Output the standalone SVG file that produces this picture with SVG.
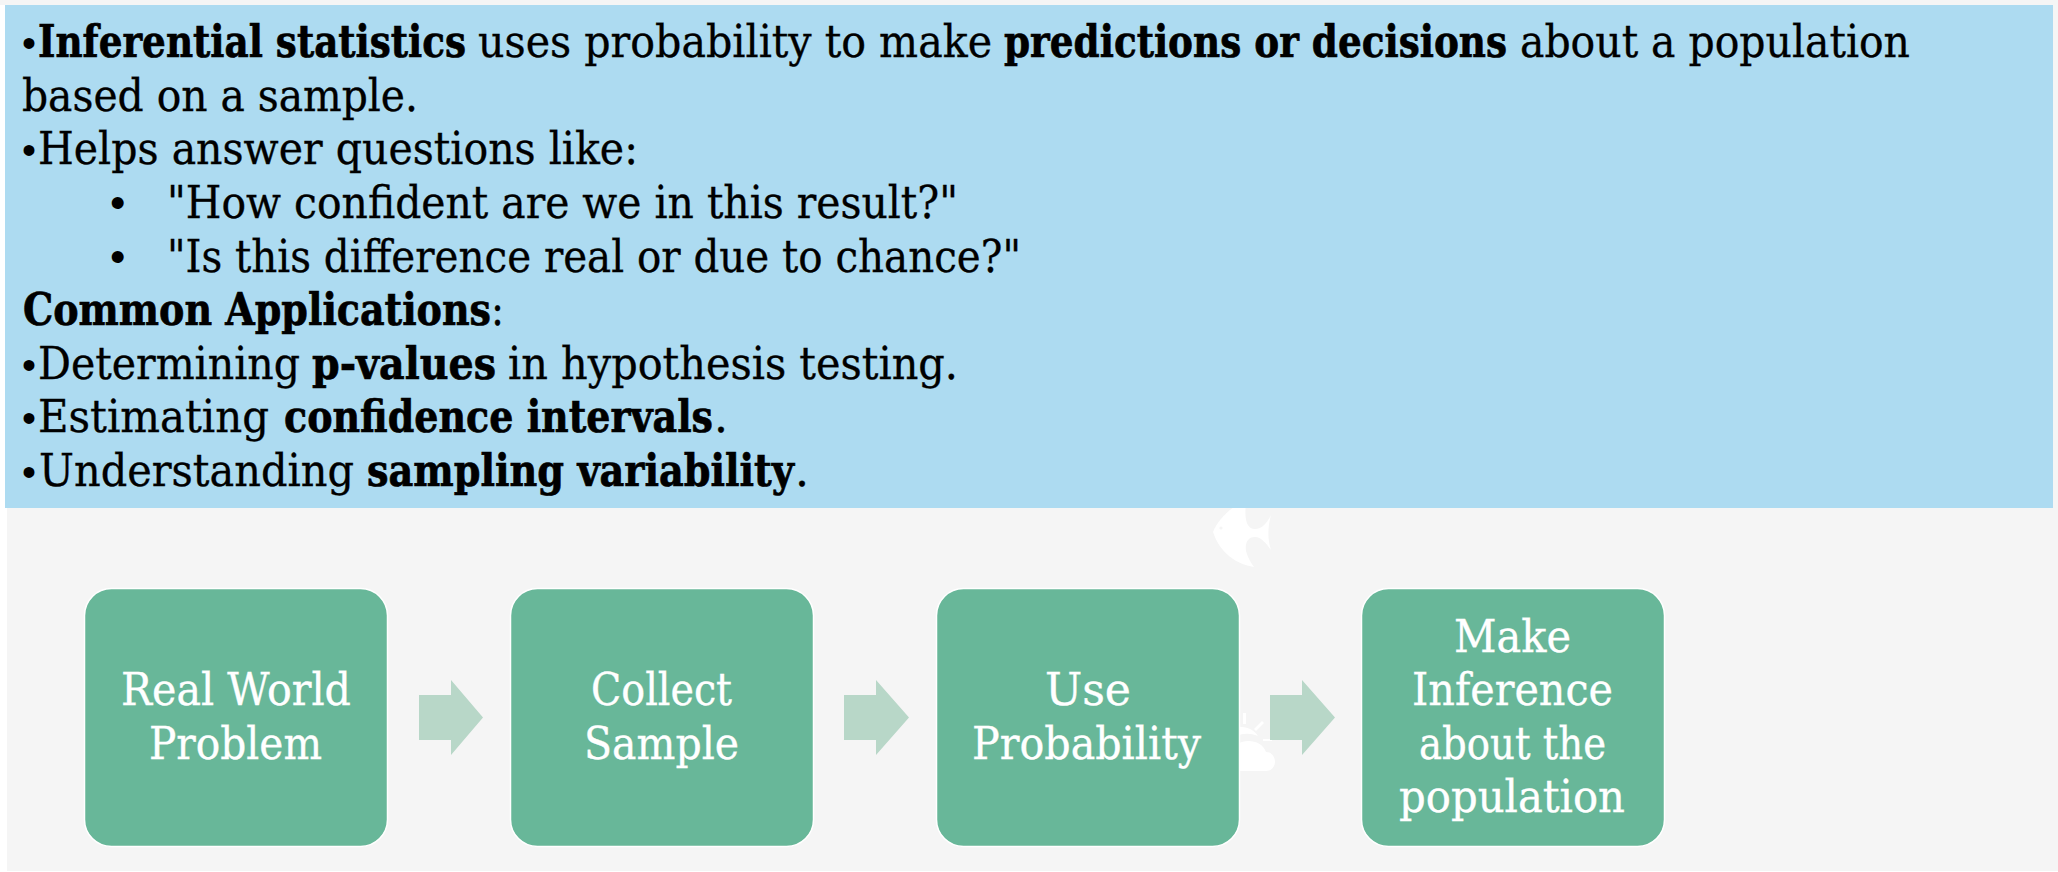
<svg xmlns="http://www.w3.org/2000/svg" width="2058" height="872" viewBox="0 0 2058 872">
<style>
text{font-family:"DejaVu Serif","Liberation Serif",serif}
.b{font-size:44px;fill:#000;stroke:#000;stroke-width:.35}
.s{font-weight:700;stroke-width:.7}
.d{font-family:"Liberation Sans",sans-serif;font-size:40px;stroke:none}
.n{font-size:44px;fill:#fff;stroke:#fff;stroke-width:.35}
.box{fill:#68b799;stroke:#fff;stroke-width:1.5}
.arr{fill:#b8d7c8}
</style>
<rect width="2058" height="872" fill="#fff"/>
<rect x="0" y="0" width="2058" height="5" fill="#f5f5f5"/>
<rect x="7" y="0" width="2051" height="871" fill="#f5f5f5"/>
<g id="decor" fill="#fff">
<path d="M1213 532C1218 520 1228 510 1240 503L1246 503C1244 520 1247 529 1255 529C1262 529 1267 523 1271 515C1268 526 1267 538 1271 550C1266 543 1261 537 1255 537C1247 537 1245 544 1246 551C1248 558 1251 563 1254 567C1236 564 1220 553 1213 532Z"/>
<circle cx="1221" cy="528" r="1.6" fill="#f5f5f5"/>
<path d="M1243 713h3v11h-3zM1254 729l8-8 2 2-8 8zM1263 739h9v2h-9z"/>
<path d="M1236 727C1247 726 1254 730 1258 736C1250 733 1244 733 1236 736Z"/>
<path d="M1236 771V745C1245 738 1262 740 1266 752C1272 752 1275 757 1275 762C1275 767 1271 771 1266 771Z"/>
</g>
<g id="panel">
<rect x="5" y="5" width="2048" height="503" fill="#addbf1"/>
<text class="b d" x="22" y="57">•</text>
<text class="b s" x="38" y="57" textLength="428" lengthAdjust="spacingAndGlyphs">Inferential statistics</text>
<text class="b" x="478" y="57" textLength="514" lengthAdjust="spacingAndGlyphs">uses probability to make</text>
<text class="b s" x="1004" y="57" textLength="503" lengthAdjust="spacingAndGlyphs">predictions or decisions</text>
<text class="b" x="1520" y="57" textLength="390" lengthAdjust="spacingAndGlyphs">about a population</text>
<text class="b" x="22" y="110.5" textLength="396" lengthAdjust="spacingAndGlyphs">based on a sample.</text>
<text class="b d" x="22" y="164">•</text>
<text class="b" x="38" y="164" textLength="600" lengthAdjust="spacingAndGlyphs">Helps answer questions like:</text>
<text class="b d" x="110" y="218" style="font-size:44px">•</text>
<text class="b" x="167" y="218" textLength="791" lengthAdjust="spacingAndGlyphs">"How confident are we in this result?"</text>
<text class="b d" x="110" y="271.5" style="font-size:44px">•</text>
<text class="b" x="167" y="271.5" textLength="854" lengthAdjust="spacingAndGlyphs">"Is this difference real or due to chance?"</text>
<text class="b s" x="23" y="325" textLength="468" lengthAdjust="spacingAndGlyphs">Common Applications</text>
<text class="b" x="491" y="325" textLength="13" lengthAdjust="spacingAndGlyphs">:</text>
<text class="b d" x="22" y="378.5">•</text>
<text class="b" x="38" y="378.5" textLength="262" lengthAdjust="spacingAndGlyphs">Determining</text>
<text class="b s" x="312" y="378.5" textLength="184" lengthAdjust="spacingAndGlyphs">p-values</text>
<text class="b" x="508" y="378.5" textLength="450" lengthAdjust="spacingAndGlyphs">in hypothesis testing.</text>
<text class="b d" x="22" y="432">•</text>
<text class="b" x="38" y="432" textLength="231" lengthAdjust="spacingAndGlyphs">Estimating</text>
<text class="b s" x="284" y="432" textLength="429" lengthAdjust="spacingAndGlyphs">confidence intervals</text>
<text class="b" x="714" y="432">.</text>
<text class="b d" x="22" y="485.5">•</text>
<text class="b" x="39" y="485.5" textLength="315" lengthAdjust="spacingAndGlyphs">Understanding</text>
<text class="b s" x="367" y="485.5" textLength="427" lengthAdjust="spacingAndGlyphs">sampling variability</text>
<text class="b" x="795" y="485.5">.</text>
</g>
<g id="connectors">
<polygon class="arr" points="419,695 451,695 451,680 483,717.5 451,755 451,740 419,740"/>
<polygon class="arr" points="844,695 876,695 876,680 909,717.5 876,755 876,740 844,740"/>
<polygon class="arr" points="1270,695 1302,695 1302,680 1335,717.5 1302,755 1302,740 1270,740"/>
</g>
<g id="node-1">
<rect class="box" x="84.5" y="588.5" width="303" height="258" rx="27"/>
<text class="n" x="121" y="705" textLength="230" lengthAdjust="spacingAndGlyphs">Real World</text>
<text class="n" x="149" y="758.5" textLength="173" lengthAdjust="spacingAndGlyphs">Problem</text>
</g>
<g id="node-2">
<rect class="box" x="510.5" y="588.5" width="303" height="258" rx="27"/>
<text class="n" x="591" y="705" textLength="141" lengthAdjust="spacingAndGlyphs">Collect</text>
<text class="n" x="584" y="758.5" textLength="155" lengthAdjust="spacingAndGlyphs">Sample</text>
</g>
<g id="node-3">
<rect class="box" x="936.5" y="588.5" width="303" height="258" rx="27"/>
<text class="n" x="1045" y="705" textLength="86" lengthAdjust="spacingAndGlyphs">Use</text>
<text class="n" x="972" y="758.5" textLength="229" lengthAdjust="spacingAndGlyphs">Probability</text>
</g>
<g id="node-4">
<rect class="box" x="1361.5" y="588.5" width="303" height="258" rx="27"/>
<text class="n" x="1454" y="651.5" textLength="117" lengthAdjust="spacingAndGlyphs">Make</text>
<text class="n" x="1412" y="705" textLength="201" lengthAdjust="spacingAndGlyphs">Inference</text>
<text class="n" x="1419" y="758.5" textLength="187" lengthAdjust="spacingAndGlyphs">about the</text>
<text class="n" x="1399" y="812" textLength="226" lengthAdjust="spacingAndGlyphs">population</text>
</g>
</svg>
